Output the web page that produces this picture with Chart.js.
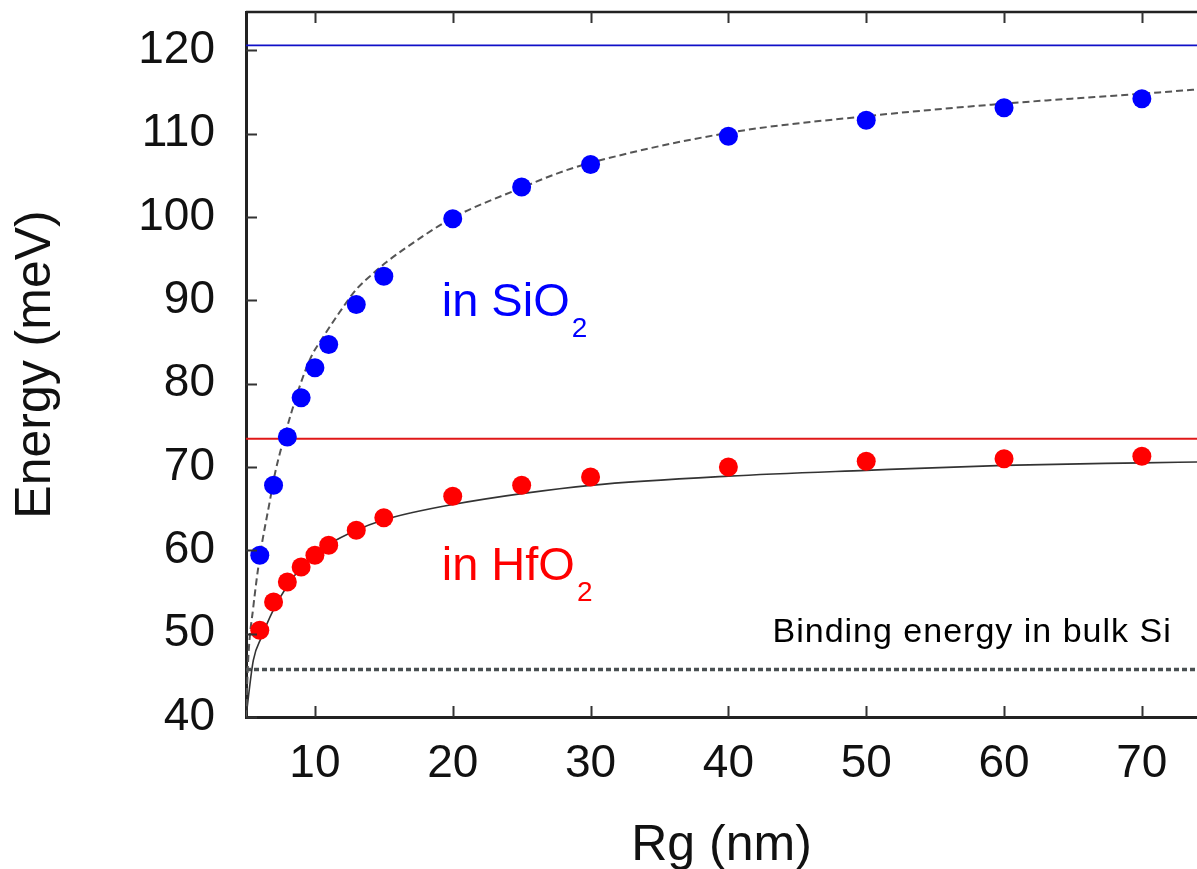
<!DOCTYPE html>
<html>
<head>
<meta charset="utf-8">
<script src="https://cdn.jsdelivr.net/npm/chart.js@4.4.1/dist/chart.umd.min.js"></script>
<style>
  html, body { margin: 0; padding: 0; background: #fff; overflow: hidden; }
  #wrap { width: 1197px; height: 869px; position: relative; overflow: hidden; }
  #energyChart { display: block; }
</style>
</head>
<body>
<div id="wrap"><canvas id="energyChart"></canvas></div>
<script>
// exciton radius Rg (nm) of the measured points
const sizes = [6, 7, 8, 9, 10, 11, 13, 15, 20, 25, 30, 40, 50, 60, 70];
const sio2Energy = [59.4, 67.8, 73.6, 78.3, 81.9, 84.7, 89.5, 92.9, 99.8, 103.6, 106.3, 109.7, 111.6, 113.1, 114.2];
const hfo2Energy = [50.4, 53.8, 56.2, 58.0, 59.4, 60.6, 62.4, 63.9, 66.5, 67.8, 68.8, 70.0, 70.7, 71.0, 71.3];

// fitted curves
const sio2FitR = [5.0, 5.17, 5.53, 6.0, 6.74, 7.1, 7.58, 8.9, 9.75, 10.6, 11.8, 13, 14.2, 15.2, 16.6, 20, 25, 27.7, 30, 40, 50, 60, 70, 74];
const sio2FitE = [40, 47.2, 53.2, 59.2, 66.0, 69.2, 72.4, 79.7, 83.3, 85.6, 88.6, 91.3, 93.2, 94.6, 96.3, 99.9, 103.5, 105.3, 106.5, 110.1, 112.1, 113.6, 114.8, 115.3];
const hfo2FitR = [5.0, 5.53, 6.13, 6.97, 7.94, 9.03, 10.1, 11.1, 13, 14.9, 17, 20, 25, 30, 40, 50, 60, 70, 74];
const hfo2FitE = [40, 46.8, 49.6, 52.8, 55.6, 58.0, 59.6, 60.8, 62.4, 63.6, 64.5, 65.5, 66.8, 67.8, 68.9, 69.6, 70.2, 70.5, 70.6];

// horizontal reference levels (meV)
const sio2Limit = 120.6;
const hfo2Limit = 73.4;
const bulkSiBinding = 45.7;

const xRange = [5, 74];
const yRange = [40, 124.6];

const FONT = '"Liberation Sans", Arial, Helvetica, sans-serif';

const pts = (xs, ys) => xs.map((x, i) => ({ x: x, y: ys[i] }));
const level = (v) => [{ x: xRange[0], y: v }, { x: xRange[1], y: v }];

// text annotations, anchored in data coordinates
const notes = [
  { text: 'in SiO', sub: '2', x: 19.2, y: 88.1, color: '#0000ff', size: 47 },
  { text: 'in HfO', sub: '2', x: 19.2, y: 56.4, color: '#ff0000', size: 47 },
  { text: 'Binding energy in bulk Si', x: 43.2, y: 49.0, color: '#000', size: 34, spacing: '1px' }
];

// keep the plot box fixed: no extra room for the tick labels
function noPadding(scale) {
  scale.paddingTop = 0;
  scale.paddingBottom = 0;
  scale.paddingLeft = 0;
  scale.paddingRight = 0;
}

const frame = {
  id: 'frame',
  afterDatasetsDraw(chart) {
    const { ctx, chartArea: a, scales: { x, y } } = chart;
    ctx.save();
    ctx.strokeStyle = '#222';
    ctx.lineWidth = 2.5;
    ctx.beginPath();
    ctx.moveTo(a.left, a.top);
    ctx.lineTo(a.right, a.top);
    ctx.stroke();

    // inward tick marks
    ctx.lineWidth = 2;
    ctx.strokeStyle = '#333';
    ctx.beginPath();
    x.ticks.forEach(t => {
      const px = Math.round(x.getPixelForValue(t.value)) + 0.5;
      ctx.moveTo(px, a.bottom);
      ctx.lineTo(px, a.bottom - 11);
      ctx.moveTo(px, a.top);
      ctx.lineTo(px, a.top + 11);
    });
    y.ticks.forEach(t => {
      const py = Math.round(y.getPixelForValue(t.value)) + 0.5;
      ctx.moveTo(a.left, py);
      ctx.lineTo(a.left + 11, py);
    });
    ctx.stroke();

    // labels
    notes.forEach(n => {
      const px = x.getPixelForValue(n.x);
      const py = y.getPixelForValue(n.y);
      ctx.fillStyle = n.color;
      ctx.textAlign = 'left';
      ctx.textBaseline = 'alphabetic';
      ctx.font = n.size + 'px ' + FONT;
      ctx.letterSpacing = n.spacing || '0px';
      ctx.fillText(n.text, px, py);
      if (n.sub) {
        const w = ctx.measureText(n.text).width;
        ctx.font = Math.round(n.size * 0.6) + 'px ' + FONT;
        ctx.fillText(n.sub, px + w + 2, py + 20.5);
      }
    });
    ctx.letterSpacing = '0px';
    ctx.restore();
  }
};

new Chart(document.getElementById('energyChart'), {
  type: 'scatter',
  data: {
    datasets: [
      {
        label: 'SiO2',
        data: pts(sizes, sio2Energy),
        backgroundColor: '#0000ff',
        pointRadius: 9.5,
        pointBorderWidth: 0,
        order: 0
      },
      {
        label: 'HfO2',
        data: pts(sizes, hfo2Energy),
        backgroundColor: '#ff0000',
        pointRadius: 9.5,
        pointBorderWidth: 0,
        order: 0
      },
      {
        label: 'SiO2 fit',
        data: pts(sio2FitR, sio2FitE),
        showLine: true,
        cubicInterpolationMode: 'monotone',
        borderColor: '#555',
        borderWidth: 2,
        borderDash: [7, 4],
        pointRadius: 0,
        order: 1
      },
      {
        label: 'HfO2 fit',
        data: pts(hfo2FitR, hfo2FitE),
        showLine: true,
        cubicInterpolationMode: 'monotone',
        borderColor: '#333',
        borderWidth: 1.6,
        pointRadius: 0,
        order: 1
      },
      {
        label: 'SiO2 limit',
        data: level(sio2Limit),
        showLine: true,
        borderColor: '#1010c8',
        borderWidth: 1.8,
        pointRadius: 0,
        order: 2
      },
      {
        label: 'HfO2 limit',
        data: level(hfo2Limit),
        showLine: true,
        borderColor: '#e01818',
        borderWidth: 2,
        pointRadius: 0,
        order: 2
      },
      {
        label: 'bulk Si',
        data: level(bulkSiBinding),
        showLine: true,
        borderColor: '#4a5052',
        borderWidth: 3.5,
        borderDash: [5, 3],
        pointRadius: 0,
        order: 2
      }
    ]
  },
  options: {
    responsive: true,
    maintainAspectRatio: false,
    animation: false,
    layout: { autoPadding: false, padding: { top: 12, right: 0, left: 0, bottom: 0 } },
    plugins: {
      legend: { display: false },
      tooltip: { enabled: false }
    },
    scales: {
      x: {
        type: 'linear',
        min: xRange[0],
        max: xRange[1],
        afterFit: (scale) => { scale.height = 152; noPadding(scale); },
        grid: { display: false, drawTicks: false },
        border: { display: true, color: '#222', width: 3 },
        ticks: {
          stepSize: 10,
          includeBounds: false,
          padding: 20,
          color: '#111',
          font: { family: FONT, size: 46 }
        },
        title: {
          display: true,
          text: 'Rg (nm)',
          color: '#111',
          font: { family: FONT, size: 50 },
          padding: { top: 0, bottom: -7 }
        }
      },
      y: {
        type: 'linear',
        min: yRange[0],
        max: yRange[1],
        afterFit: (scale) => { scale.width = 246; noPadding(scale); },
        grid: { display: false, drawTicks: false },
        border: { display: true, color: '#222', width: 3 },
        ticks: {
          stepSize: 10,
          includeBounds: false,
          padding: 31,
          color: '#111',
          font: { family: FONT, size: 46 }
        },
        title: {
          display: true,
          text: 'Energy (meV)',
          color: '#111',
          font: { family: FONT, size: 50 },
          padding: { top: 6, bottom: 0 }
        }
      }
    }
  },
  plugins: [frame]
});
</script>
</body>
</html>
